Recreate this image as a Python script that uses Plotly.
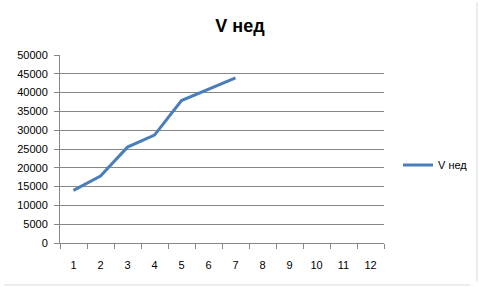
import plotly.graph_objects as go

categories = [str(i) for i in range(1, 13)]
values = [14000, 17800, 25500, 28700, 37900, 40900, 43900, None, None, None, None, None]
series_name = "V нед"
title_text = "V нед"
y_ticks = list(range(0, 50001, 5000))

fig = go.Figure()
fig.add_trace(go.Scatter(
    x=categories, y=values, mode="lines", name=series_name,
    line=dict(color="#4A7EBB", width=3), connectgaps=False,
))

L, R, T, B = 60, 96, 55, 44
W, H = 480, 287
pw, ph = W - L - R, H - T - B

fig.update_layout(
    width=W, height=H,
    margin=dict(l=L, r=R, t=T, b=B),
    paper_bgcolor="white", plot_bgcolor="white",
    title=dict(text="<b>" + title_text + "</b>", x=0.5, xanchor="center",
               y=1 - 26 / H, yanchor="middle", xref="container", yref="container",
               font=dict(family="Liberation Sans, Arial", size=18, color="black")),
    font=dict(family="Liberation Sans, Arial", size=11, color="black"),
    showlegend=True,
    legend=dict(xref="container", yref="container", x=398 / W, y=1 - 165 / H,
                xanchor="left", yanchor="middle", font=dict(size=11),
                itemwidth=30, bgcolor="rgba(0,0,0,0)"),
    xaxis=dict(type="category", categoryorder="array", categoryarray=categories,
               range=[-0.5, 11.5], showgrid=False, showline=True, linecolor="#868686",
               ticks="outside", tickson="boundaries", ticklen=5, tickcolor="#868686",
               ticklabelstandoff=12, fixedrange=True),
    yaxis=dict(range=[0, 50000], tickvals=y_ticks, showgrid=True, gridcolor="#868686",
               gridwidth=1, showline=True, linecolor="#868686", ticks="outside",
               ticklen=5, tickcolor="#868686", zeroline=False, tickformat="d",
               ticklabelstandoff=4, fixedrange=True),
)

# faint outer chart border (right and bottom visible)
x_right = (477 - L) / pw
y_bottom = (H - B - 285) / ph
fig.add_shape(type="line", xref="paper", yref="paper", x0=x_right, x1=x_right,
              y0=y_bottom + 0.02, y1=(H - B - 2) / ph, line=dict(color="#d4dde2", width=1))
fig.add_shape(type="line", xref="paper", yref="paper", x0=(4 - L) / pw, x1=x_right - 0.02,
              y0=y_bottom, y1=y_bottom, line=dict(color="#d4dde2", width=1))

fig.write_html("out.html")
